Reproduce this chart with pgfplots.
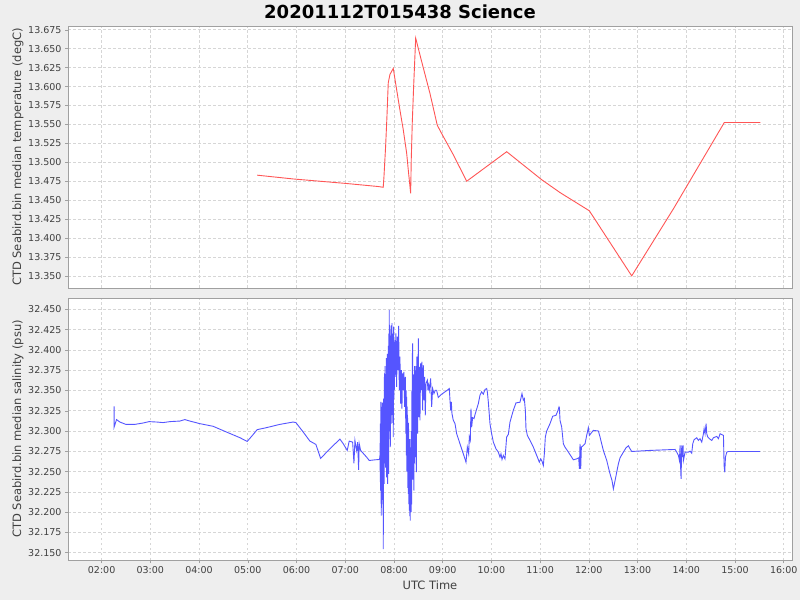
\documentclass[border=0pt]{standalone}
\usepackage{pgfplots}
\pgfplotsset{compat=1.18}
\usepackage{fontspec}
\setmainfont{DejaVu Sans}
\definecolor{bg}{HTML}{EEEEEE}
\definecolor{gridc}{HTML}{D6D6D6}
\definecolor{framec}{HTML}{A0A0A0}
\definecolor{tickc}{HTML}{404040}
\definecolor{tred}{HTML}{FF5555}
\definecolor{sblue}{HTML}{5555FF}

\pgfplotstableread{
h v
5.193 13.483
5.932 13.478
7.029 13.472
7.678 13.468
7.780 13.467
7.795 13.481
7.829 13.521
7.856 13.560
7.883 13.605
7.918 13.616
7.986 13.624
8.055 13.596
8.123 13.569
8.191 13.543
8.261 13.512
8.294 13.490
8.343 13.459
8.355 13.503
8.376 13.552
8.404 13.600
8.446 13.664
8.569 13.633
8.739 13.591
8.889 13.549
8.979 13.538
9.218 13.510
9.493 13.475
10.314 13.514
11.033 13.477
11.409 13.460
12.010 13.436
12.880 13.350
13.740 13.439
14.780 13.5525
15.520 13.5525
}\temptable

\pgfplotstableread{
h v
2.257 32.3305
2.257 32.3049
2.306 32.3141
2.374 32.3111
2.497 32.3082
2.682 32.3082
2.852 32.3099
2.975 32.3116
3.127 32.3111
3.263 32.3104
3.400 32.3116
3.606 32.3123
3.708 32.3141
3.811 32.3123
4.016 32.3091
4.290 32.3058
4.565 32.2987
4.838 32.2918
4.988 32.2872
5.078 32.2934
5.193 32.3017
5.386 32.3042
5.659 32.3082
5.932 32.3111
5.988 32.3104
6.138 32.2987
6.275 32.2876
6.398 32.2835
6.495 32.2662
6.686 32.2782
6.891 32.2900
6.959 32.2844
7.041 32.2761
7.082 32.2876
7.152 32.2863
7.179 32.2603
7.199 32.2884
7.234 32.2761
7.255 32.2863
7.275 32.2522
7.287 32.2844
7.316 32.2761
7.439 32.2678
7.493 32.2637
7.610 32.2645
7.698 32.2649
7.705 32.2657
7.713 32.2699
7.716 32.2513
7.719 32.3091
7.722 32.2400
7.726 32.2265
7.729 32.3200
7.733 32.3359
7.736 32.2300
7.740 32.1956
7.744 32.3100
7.747 32.2150
7.750 32.3250
7.754 32.3297
7.757 32.2300
7.760 32.2430
7.763 32.3350
7.767 32.3173
7.771 32.2100
7.774 32.3000
7.778 32.2300
7.781 32.1543
7.785 32.3400
7.790 32.2400
7.795 32.3091
7.800 32.2350
7.804 32.3650
7.808 32.3710
7.812 32.2600
7.816 32.3800
7.822 32.2760
7.826 32.3700
7.830 32.2550
7.836 32.3545
7.840 32.2700
7.845 32.3900
7.849 32.2430
7.853 32.3800
7.856 32.3379
7.860 32.2500
7.866 32.3950
7.870 32.2348
7.874 32.3750
7.877 32.3586
7.881 32.2600
7.886 32.4050
7.891 32.2472
7.897 32.4200
7.900 32.3000
7.904 32.4494
7.908 32.3100
7.911 32.3297
7.914 32.4250
7.918 32.3875
7.921 32.3000
7.925 32.2802
7.929 32.4150
7.932 32.3999
7.936 32.3300
7.940 32.4300
7.945 32.3091
7.950 32.4000
7.955 32.3200
7.959 32.4329
7.962 32.3400
7.966 32.3297
7.970 32.4200
7.973 32.4122
7.978 32.3100
7.982 32.4000
7.986 32.2926
7.990 32.3900
7.993 32.4287
7.997 32.3400
8.000 32.4100
8.007 32.3503
8.021 32.4122
8.027 32.3668
8.041 32.4205
8.055 32.3545
8.069 32.4164
8.082 32.3751
8.096 32.4296
8.110 32.3503
8.123 32.3916
8.137 32.3338
8.151 32.3751
8.164 32.3276
8.178 32.3710
8.192 32.3503
8.205 32.3730
8.219 32.3297
8.233 32.3668
8.240 32.3200
8.246 32.2967
8.252 32.3500
8.256 32.2700
8.260 32.3421
8.265 32.2500
8.270 32.3300
8.274 32.2595
8.278 32.3200
8.281 32.3091
8.286 32.2300
8.290 32.3000
8.294 32.2224
8.298 32.3100
8.301 32.2967
8.305 32.2100
8.309 32.2800
8.315 32.2018
8.318 32.2900
8.322 32.2678
8.327 32.1950
8.331 32.2700
8.335 32.1894
8.339 32.2800
8.342 32.2000
8.345 32.2900
8.349 32.2472
8.353 32.2000
8.357 32.3000
8.360 32.2100
8.363 32.2100
8.366 32.3400
8.370 32.3503
8.374 32.2400
8.378 32.3900
8.383 32.4081
8.387 32.2500
8.390 32.2884
8.394 32.3700
8.397 32.2400
8.401 32.3600
8.404 32.3256
8.408 32.2300
8.411 32.2265
8.415 32.3600
8.418 32.2600
8.421 32.3800
8.424 32.3710
8.428 32.2700
8.431 32.2678
8.435 32.3600
8.440 32.2800
8.445 32.3173
8.450 32.3800
8.454 32.2700
8.459 32.2492
8.463 32.3700
8.468 32.3000
8.472 32.3916
8.486 32.2967
8.500 32.4143
8.513 32.3173
8.527 32.3792
8.534 32.3132
8.548 32.3834
8.561 32.3503
8.575 32.3854
8.589 32.3256
8.602 32.3813
8.616 32.3379
8.630 32.3668
8.643 32.3194
8.657 32.3586
8.685 32.3627
8.698 32.3503
8.712 32.3565
8.726 32.3503
8.753 32.3648
8.774 32.3297
8.794 32.3524
8.821 32.3462
8.849 32.3503
8.876 32.3503
8.910 32.3413
8.979 32.3454
9.047 32.3483
9.095 32.3503
9.136 32.3524
9.150 32.3379
9.164 32.3256
9.177 32.3359
9.191 32.3215
9.218 32.3132
9.253 32.3091
9.287 32.2967
9.355 32.2843
9.424 32.2719
9.479 32.2616
9.506 32.2802
9.533 32.2719
9.547 32.2926
9.567 32.2884
9.581 32.3276
9.595 32.3049
9.615 32.3165
9.643 32.3153
9.670 32.3215
9.732 32.3338
9.766 32.3442
9.800 32.3483
9.834 32.3454
9.869 32.3512
9.903 32.3524
9.917 32.3483
9.937 32.3359
9.971 32.3091
10.005 32.2967
10.040 32.2864
10.094 32.2781
10.142 32.2740
10.177 32.2678
10.197 32.2719
10.218 32.2649
10.245 32.2699
10.279 32.2657
10.313 32.2926
10.348 32.2959
10.382 32.3111
10.450 32.3256
10.505 32.3347
10.587 32.3355
10.628 32.3462
10.656 32.3380
10.676 32.3400
10.697 32.3256
10.710 32.3029
10.738 32.2946
10.793 32.2884
10.861 32.2802
10.930 32.2699
10.984 32.2616
11.012 32.2657
11.039 32.2628
11.066 32.2575
11.087 32.2719
11.107 32.2926
11.135 32.3000
11.203 32.3091
11.258 32.3182
11.326 32.3194
11.368 32.3256
11.388 32.3297
11.395 32.3289
11.409 32.3132
11.443 32.3049
11.477 32.2843
11.511 32.2802
11.580 32.2740
11.648 32.2678
11.682 32.2645
11.751 32.2657
11.792 32.2670
11.806 32.2534
11.819 32.2843
11.833 32.2534
11.847 32.2802
11.888 32.2822
11.922 32.2843
11.956 32.2946
11.990 32.3041
12.011 32.2946
12.038 32.2967
12.093 32.3008
12.196 32.3000
12.230 32.2926
12.264 32.2843
12.298 32.2761
12.367 32.2637
12.435 32.2472
12.476 32.2389
12.504 32.2286
12.538 32.2389
12.572 32.2492
12.606 32.2595
12.641 32.2670
12.709 32.2740
12.764 32.2794
12.812 32.2818
12.846 32.2781
12.880 32.2748
13.257 32.2761
13.770 32.2773
13.804 32.2740
13.839 32.2699
13.859 32.2637
13.873 32.2822
13.886 32.2513
13.893 32.2410
13.907 32.2822
13.921 32.2678
13.934 32.2822
13.941 32.2637
13.975 32.2740
14.044 32.2740
14.078 32.2752
14.112 32.2727
14.133 32.2843
14.160 32.2893
14.215 32.2917
14.249 32.2884
14.283 32.2905
14.318 32.2864
14.352 32.2967
14.366 32.3029
14.386 32.2967
14.407 32.3091
14.420 32.2967
14.441 32.2926
14.475 32.2905
14.523 32.2884
14.557 32.2917
14.626 32.2934
14.660 32.2905
14.694 32.2967
14.763 32.2946
14.776 32.2575
14.790 32.2492
14.804 32.2678
14.831 32.2740
14.865 32.2748
15.515 32.2748
}\saltable

\pgfplotsset{
  panel/.style={
    scale only axis, width=724pt, height=262pt,
    xmin=1.31, xmax=16.17,
    axis background/.style={fill=white},
    axis x line*=bottom, axis y line*=left,
    axis line style={draw=none},
    grid=major,
    major grid style={gridc, dash pattern=on 2.5pt off 2.5pt, line width=0.6pt},
    tick align=outside, major tick length=3pt,
    tick style={framec, line width=0.5pt},
    xtick={2,3,4,5,6,7,8,9,10,11,12,13,14,15,16},
    ticklabel style={font=\fontsize{9.5}{11}\selectfont, text=tickc},
    yticklabel style={/pgf/number format/.cd, fixed, fixed zerofill, precision=3, assume math mode=true},
    every axis y label/.style={at={(axis description cs:-0.0691,0.5)}, rotate=90, anchor=center, font=\fontsize{11.5}{13}\selectfont, text=tickc},
    every axis x label/.style={at={(axis description cs:0.5,0)}, yshift=-25pt, anchor=center, font=\fontsize{11.5}{13}\selectfont, text=tickc},
    clip=true,
  }
}

\begin{document}
\begin{tikzpicture}
\fill[bg] (0pt,0pt) rectangle (800pt,600pt);
\useasboundingbox (0pt,0pt) rectangle (800pt,600pt);
\node[font=\bfseries\fontsize{18}{21}\selectfont, text=black] at (400pt,588pt) {20201112T015438 Science};

\begin{axis}[panel,
  at={(68pt,312pt)}, anchor=south west,
  ymin=13.334, ymax=13.680,
  ytick={13.350,13.375,13.400,13.425,13.450,13.475,13.500,13.525,13.550,13.575,13.600,13.625,13.650,13.675},
  xticklabels={}, x tick style={draw=none},
  ylabel={CTD Seabird.bin median temperature (degC)},
]
\addplot[tred, line width=0.9pt, mark=none] table[x=h, y=v] {\temptable};
\end{axis}
\draw[framec, line width=0.8pt] (68pt,312pt) rectangle (792pt,574pt);

\begin{axis}[panel,
  at={(68pt,40pt)}, anchor=south west,
  ymin=32.141, ymax=32.464,
  ytick={32.150,32.175,32.200,32.225,32.250,32.275,32.300,32.325,32.350,32.375,32.400,32.425,32.450},
  xticklabels={02:00,03:00,04:00,05:00,06:00,07:00,08:00,09:00,10:00,11:00,12:00,13:00,14:00,15:00,16:00},
  ylabel={CTD Seabird.bin median salinity (psu)},
  xlabel={UTC Time},
]
\addplot[sblue, line width=0.9pt, mark=none] table[x=h, y=v] {\saltable};
\end{axis}
\draw[framec, line width=0.8pt] (68pt,40pt) rectangle (792pt,302pt);
\end{tikzpicture}
\end{document}
